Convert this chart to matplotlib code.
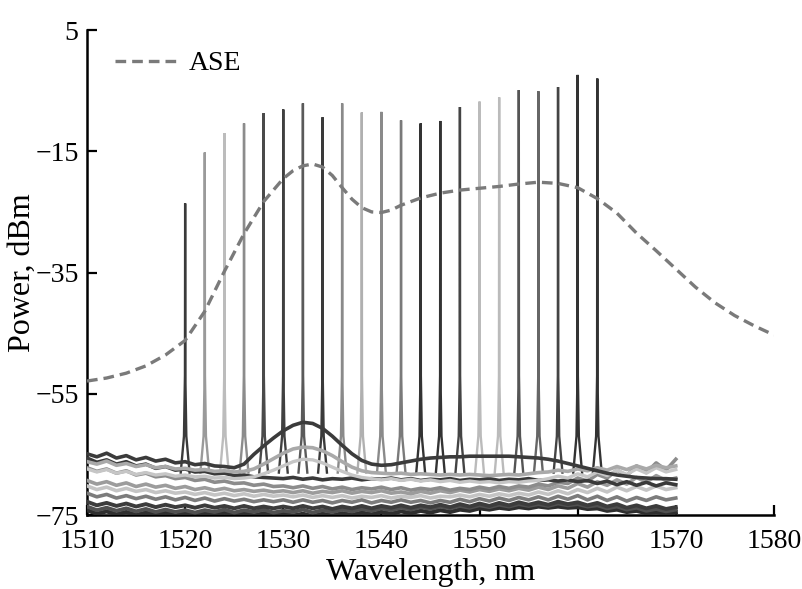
import matplotlib
matplotlib.use("Agg")
import matplotlib.pyplot as plt

plt.rcParams['font.family'] = ['Liberation Serif', 'DejaVu Serif']

# ASE spectrum (dashed)
ase_wl = [1510, 1512, 1514, 1516, 1518, 1520, 1522, 1524, 1526, 1528, 1530, 1531, 1532,
          1533, 1534, 1535, 1536, 1537, 1538, 1539, 1540, 1541, 1542, 1544, 1546, 1548,
          1550, 1552, 1554, 1556, 1558, 1560, 1562, 1564, 1566, 1568, 1570, 1572, 1574,
          1576, 1578, 1580]
ase_db = [-52.9, -52.4, -51.6, -50.4, -48.6, -46.2, -41.4, -34.8, -28.6, -23.3, -19.5, -18.2,
          -17.4, -17.1, -17.6, -19.0, -21.0, -22.9, -24.3, -25.0, -25.1, -24.7, -23.9, -22.7,
          -21.9, -21.4, -21.1, -20.8, -20.4, -20.1, -20.3, -21.0, -22.8, -25.2, -28.5, -31.4,
          -34.4, -37.4, -40.0, -42.1, -43.8, -45.3]

# laser lines
peak_wl = [1520, 1522, 1524, 1526, 1528, 1530, 1532, 1534, 1536, 1538, 1540,
           1542, 1544, 1546, 1548, 1550, 1552, 1554, 1556, 1558, 1560, 1562]
peak_db = [-23.6, -15.2, -12.0, -10.4, -8.7, -8.1, -7.1, -9.4, -7.1, -8.6, -8.5,
           -9.9, -10.4, -10.0, -7.7, -6.8, -6.1, -4.9, -5.1, -4.4, -2.4, -3.0]
peak_col = ['#3a3a3a', '#9a9a9a', '#bcbcbc', '#8c8c8c', '#4a4a4a', '#404040', '#5a5a5a',
            '#3a3a3a', '#8a8a8a', '#b0b0b0', '#8a8a8a', '#7a7a7a', '#333333', '#333333',
            '#444444', '#bbbbbb', '#bbbbbb', '#555555', '#666666', '#444444', '#333333',
            '#333333']

# noise floors, 1 nm step from 1510 to 1570
floor_wl = list(range(1510, 1571))
floor_a = [-64.9, -65.4, -64.8, -65.6, -65.2, -65.9, -65.5, -66.1, -65.8, -66.4, -66.2, -66.7,
           -66.5, -66.9, -67.0, -67.2, -66.6, -65.0, -63.6, -62.3, -61.1, -60.2, -59.7, -59.9,
           -60.7, -62.0, -63.5, -64.9, -66.0, -66.6, -66.8, -66.7, -66.4, -66.1, -65.8, -65.6,
           -65.5, -65.4, -65.4, -65.3, -65.3, -65.3, -65.3, -65.3, -65.4, -65.5, -65.6, -65.8,
           -66.1, -66.5, -66.9, -67.3, -67.7, -68.1, -68.4, -68.6, -68.8, -68.9, -69.0, -69.0,
           -69.1]
floor_b = [-66.2, -66.6, -66.1, -66.8, -66.5, -67.0, -66.7, -67.2, -67.0, -67.4, -67.3, -67.6,
           -67.5, -67.8, -67.7, -67.9, -67.8,
           -67.4, -66.6, -65.7, -64.8, -64.1, -63.8, -63.9, -64.4, -65.2, -66.2, -67.1, -67.7,
           -68.0,
           -68.1, -68.2, -68.1, -68.3, -68.2, -68.3, -68.4, -68.3, -68.4, -68.3, -68.4, -68.5,
           -68.4, -68.3, -68.4, -68.2, -68.0, -67.9, -67.6, -67.8, -67.4, -67.7, -67.2, -67.6,
           -67.0, -67.5, -66.9, -67.4, -66.8, -67.2, -66.9]
floor_c = [-67.4, -67.9, -67.5, -68.1, -67.8, -68.3, -68.0, -68.4, -68.2, -68.6, -68.4, -68.7,
           -68.6, -68.9, -68.8, -69.0, -68.9,
           -68.7, -68.2, -67.6, -66.9, -66.2, -65.8, -65.9, -66.4, -67.1, -67.8, -68.4, -68.8,
           -69.0,
           -69.2, -69.0, -69.3, -69.1, -69.4, -69.2, -69.5, -69.3, -69.6, -69.4, -69.6, -69.5,
           -69.7, -69.5, -69.6, -69.4, -69.3, -69.0, -68.6, -68.9, -68.2, -68.7, -67.9, -68.5,
           -67.6, -68.3, -67.4, -68.1, -67.2, -67.9, -67.5]
floor_d = [-65.6, -66.3, -65.9, -66.6, -66.2, -66.9, -66.6, -67.3, -67.0, -67.6, -67.4, -67.9,
           -67.8, -68.2, -68.1, -68.5, -68.4, -68.7, -68.8,
           -68.9, -69.0, -68.8, -69.1, -68.9, -69.2, -69.0, -69.1, -68.9, -69.2, -69.0, -69.1,
           -68.9, -69.2, -69.0, -69.3, -69.1, -69.2, -69.0, -69.3, -69.1, -69.2, -69.0, -69.3,
           -69.1, -69.2, -69.0, -69.3, -69.2, -69.4, -69.2, -69.5,
           -69.3, -69.8, -69.4, -70.0, -69.5, -70.1, -69.6, -70.2, -69.7, -70.0]
floor_e = [-67.2, -67.8, -67.4, -68.1, -67.7, -68.4, -68.1, -68.7, -68.5, -69.0, -68.8, -69.3,
           -69.1, -69.6, -69.4, -69.8, -69.7, -70.1, -69.9, -70.3, -70.2,
           -70.5, -70.2, -70.6, -70.3, -70.7, -70.4, -70.8, -70.5, -70.7, -70.4, -70.8, -70.5,
           -70.9, -70.6, -70.8, -70.5, -70.9, -70.6, -70.8, -70.4, -70.7, -70.3, -70.6, -70.2,
           -70.4, -69.9, -70.2, -69.6,
           -69.8, -68.9, -69.4, -68.3, -68.9, -67.6, -68.5, -66.9, -68.0, -66.4, -67.6, -65.8]
floor_f = [-70.2, -70.8, -70.4, -71.0, -70.6, -71.1, -70.8, -71.3, -71.0, -71.4, -71.2, -71.6,
           -71.3, -71.7, -71.4, -71.8, -71.5, -71.9, -71.6, -71.9, -71.7,
           -72.0, -71.7, -72.1, -71.8, -72.1, -71.8, -72.2, -71.9, -72.1, -71.8, -72.2, -71.9,
           -72.1, -71.8, -72.2, -71.9, -72.0, -71.7, -72.0, -71.6, -71.9, -71.5, -71.8, -71.4,
           -71.7, -71.2, -71.6, -71.0,
           -71.5, -70.8, -71.3, -70.6, -71.2, -70.4, -71.0, -70.3, -70.9, -70.2, -70.8, -70.5]
floor_g = [-71.4, -72.0, -71.6, -72.2, -71.8, -72.3, -71.9, -72.4, -72.0, -72.5, -72.1, -72.6,
           -72.2, -72.7, -72.3, -72.7, -72.4, -72.8, -72.5, -72.8, -72.5,
           -72.9, -72.5, -72.9, -72.6, -73.0, -72.6, -72.9, -72.5, -73.0, -72.6, -72.9, -72.5,
           -72.9, -72.6, -73.0, -72.6, -72.9, -72.4, -72.8, -72.3, -72.7, -72.2, -72.6, -72.1,
           -72.5, -72.0, -72.5, -71.9,
           -72.4, -71.8, -72.5, -71.9, -72.6, -72.0, -72.7, -72.1, -72.6, -72.0, -72.5, -72.2]
floor_h = [-72.8, -73.4, -73.0, -73.5, -73.1, -73.6, -73.2, -73.7, -73.3, -73.7, -73.4, -73.8,
           -73.4, -73.8, -73.5, -73.9, -73.5, -73.9, -73.6, -73.9, -73.6,
           -73.9, -73.5, -73.9, -73.6, -74.0, -73.6, -73.9, -73.5, -73.9, -73.5, -73.8, -73.4,
           -73.8, -73.4, -73.7, -73.3, -73.7, -73.2, -73.6, -73.1, -73.5, -73.0, -73.4, -72.9,
           -73.3, -72.9, -73.3, -72.8,
           -73.2, -72.9, -73.4, -73.0, -73.6, -73.2, -73.8, -73.4, -73.9, -73.5, -74.0, -73.7]
floor_i = [-74.2, -74.8, -74.4, -74.9, -74.5, -75.0, -74.6, -75.0, -74.6, -75.1, -74.7, -75.1,
           -74.7, -75.0, -74.6, -75.0, -74.6, -75.1, -74.7, -75.1, -74.8,
           -75.1, -74.8, -75.2, -74.8, -75.1, -74.7, -75.0, -74.6, -74.9, -74.5, -74.8, -74.4,
           -74.7, -74.3, -74.6, -74.2, -74.5, -74.1, -74.3, -73.9, -74.1, -73.8, -74.0, -73.7,
           -73.9, -73.6, -73.8, -73.6,
           -73.8, -73.7, -74.0, -73.9, -74.3, -74.1, -74.5, -74.3, -74.7, -74.5, -74.8, -74.6]
floor_j = [-69.3, -69.9, -69.5, -70.1, -69.7, -70.3, -69.9, -70.4, -70.1, -70.6, -70.3, -70.8,
           -70.5, -70.9, -70.6, -71.0, -70.8, -71.1, -70.9, -71.2, -71.0,
           -71.3, -71.0, -71.4, -71.1, -71.3, -71.0, -71.4, -71.1, -71.3, -71.0, -71.4, -71.2,
           -71.5, -71.1, -71.4, -71.0, -71.3, -70.9, -71.2, -70.8, -71.1, -70.7, -71.0, -70.6,
           -70.9, -70.4, -70.8, -70.2,
           -70.6, -69.8, -70.4, -69.5, -70.1, -69.2, -69.9, -68.8, -69.6, -68.5, -69.3, -68.9]
floor_k = [-73.6, -74.2, -73.8, -74.3, -73.9, -74.4, -74.0, -74.5, -74.1, -74.5, -74.2, -74.6,
           -74.2, -74.5, -74.1, -74.6, -74.2, -74.5, -74.1, -74.6, -74.3,
           -74.5, -74.1, -74.6, -74.2, -74.5, -74.1, -74.4, -74.0, -74.3, -73.9, -74.2, -73.8,
           -74.1, -73.7, -74.0, -73.6, -73.9, -73.5, -73.8, -73.4, -73.7, -73.3, -73.6, -73.2,
           -73.5, -73.2, -73.5, -73.1,
           -73.4, -73.2, -73.6, -73.4, -73.9, -73.6, -74.1, -73.8, -74.3, -74.0, -74.4, -74.1]

floors = [
    (floor_i, '#2e2e2e', 3.0),
    (floor_k, '#505050', 2.8),
    (floor_h, '#3c3c3c', 2.8),
    (floor_g, '#7c7c7c', 2.6),
    (floor_f, '#c4c4c4', 2.6),
    (floor_j, '#9c9c9c', 2.6),
    (floor_e, '#8c8c8c', 2.6),
    (floor_d, '#3a3a3a', 2.6),
    (floor_c, '#c6c6c6', 2.4),
    (floor_b, '#a9a9a9', 2.6),
    (floor_a, '#3b3b3b', 2.6),
]

fig = plt.figure(figsize=(8.02, 5.89), dpi=100)
ax = fig.add_axes([0.1085, 0.1256, 0.8565, 0.8234])

# each laser line drawn as a narrow spike sitting on the floor
base = -68.0
for wl, top, col in zip(peak_wl, peak_db, peak_col):
    xs = [wl - 0.45, wl - 0.12, wl - 0.02, wl, wl + 0.02, wl + 0.12, wl + 0.45]
    ys = [base, -62.0, -52.0, top, -52.0, -62.0, base]
    ax.plot(xs, ys, color=col, lw=1.7, solid_joinstyle='miter', zorder=2)

for vals, col, lw in floors:
    ax.plot(floor_wl, vals, color=col, lw=lw, zorder=3)

ax.plot(ase_wl, ase_db, color='#7a7a7a', lw=2.4, linestyle=(0, (3.2, 1.8)),
        label='ASE', zorder=4)

ax.set_xlim(1510, 1580)
ax.set_ylim(-75, 5)
ax.set_xticks(range(1510, 1581, 10))
ax.set_yticks([5, -15, -35, -55, -75])
ax.spines['top'].set_visible(False)
ax.spines['right'].set_visible(False)
ax.spines['left'].set_linewidth(1.8)
ax.spines['bottom'].set_linewidth(1.8)
ax.tick_params(direction='in', length=7, width=1.6, labelsize=20)
ax.tick_params(axis='x', pad=10)
ax.tick_params(axis='y', pad=6)

ax.set_xlabel('Wavelength, nm', fontsize=23, labelpad=3)
ax.set_ylabel('Power, dBm', fontsize=23)
ax.yaxis.set_label_coords(-0.073, 0.5)

ax.legend(loc='upper left', bbox_to_anchor=(0.012, 0.997), frameon=False, fontsize=20,
          handlelength=2.2, handletextpad=0.45, borderaxespad=0.3)

fig.savefig('out.png', dpi=100)
